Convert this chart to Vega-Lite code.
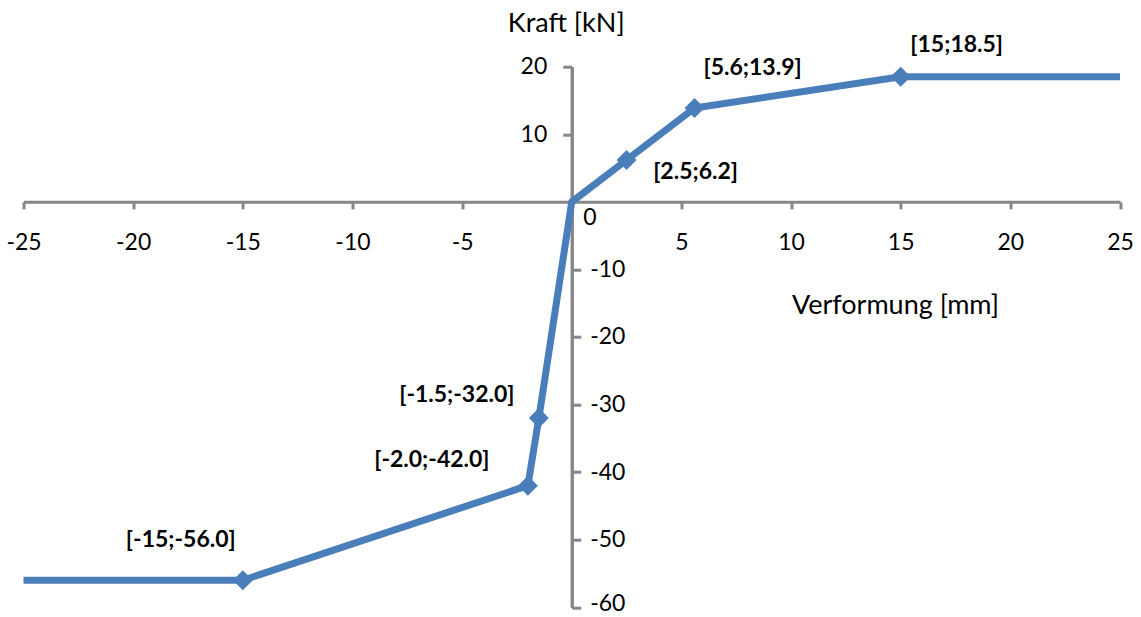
{
  "$schema": "https://vega.github.io/schema/vega-lite/v6.json",
  "autosize": {"type": "none"},
  "width": 1096.5,
  "height": 540.6,
  "padding": {"left": 23.5, "top": 66.7, "right": 21, "bottom": 25},
  "background": "white",
  "config": {
    "view": {"stroke": null},
    "font": "Lato",
    "axis": {"grid": false, "domainColor": "#868686", "tickColor": "#868686", "domainWidth": 3, "tickWidth": 3, "labelColor": "#000000", "labelFont": "Lato", "labelFontSize": 23, "titleFont": "Lato", "titleFontWeight": "normal", "titleColor": "#000000", "titleFontSize": 27, "labelExpr": "'' + datum.value"}
  },
  "data": {
    "values": [
      {"x": -25, "y": -56, "label": null},
      {"x": -15, "y": -56, "label": "[-15;-56.0]"},
      {"x": -2, "y": -42, "label": "[-2.0;-42.0]"},
      {"x": -1.5, "y": -32, "label": "[-1.5;-32.0]"},
      {"x": 0, "y": 0, "label": null},
      {"x": 2.5, "y": 6.2, "label": "[2.5;6.2]"},
      {"x": 5.6, "y": 13.9, "label": "[5.6;13.9]"},
      {"x": 15, "y": 18.5, "label": "[15;18.5]"},
      {"x": 25, "y": 18.5, "label": null}
    ]
  },
  "encoding": {
    "x": {
      "field": "x", "type": "quantitative",
      "scale": {"domain": [-25, 25], "nice": false, "zero": false},
      "axis": {
        "orient": "bottom", "offset": -405.45,
        "values": [-25, -20, -15, -10, -5, 5, 10, 15, 20, 25],
        "labelExpr": "'' + datum.value",
        "tickSize": 7, "labelPadding": 34, "labelBaseline": "middle", "labelFlush": false,
        "title": "Verformung [mm]", "titleX": 871.5, "titleY": 112, "titleAlign": "center", "titleBaseline": "alphabetic", "titleAngle": 0
      }
    }
  },
  "resolve": {"axis": {"y": "independent"}},
  "layer": [
    {
      "mark": {"type": "line", "color": "#4a7ebb", "strokeWidth": 7, "strokeJoin": "round"},
      "encoding": {
        "y": {
          "field": "y", "type": "quantitative",
          "scale": {"domain": [-60, 20], "nice": false, "zero": false},
          "axis": {
            "orient": "left", "offset": -548.25, "values": [10, 20],
            "labelExpr": "'' + datum.value",
            "tickSize": 9, "labelPadding": 16, "labelFlush": false,
            "title": "Kraft [kN]", "titleAngle": 0, "titleX": -6, "titleY": -35, "titleAlign": "center", "titleBaseline": "alphabetic"
          }
        }
      }
    },
    {
      "transform": [{"filter": "datum.label != null"}],
      "mark": {"type": "point", "shape": "diamond", "filled": true, "color": "#4a7ebb", "opacity": 1, "size": 400},
      "encoding": {
        "y": {
          "field": "y", "type": "quantitative",
          "scale": {"domain": [-60, 20], "nice": false, "zero": false},
          "axis": {
            "orient": "right", "offset": -548.25, "values": [0, -10, -20, -30, -40, -50, -60],
            "labelExpr": "'' + datum.value",
            "tickSize": {"condition": {"test": "datum.value === 0", "value": 0}, "value": 9},
            "labelPadding": {"condition": {"test": "datum.value === 0", "value": 11}, "value": 9},
            "labelOffset": {"condition": [{"test": "datum.value === 0", "value": 16}, {"test": "datum.value === -60", "value": -4}], "value": 0},
            "labelFlush": false, "title": null
          }
        }
      }
    },
    {
      "transform": [{"filter": "datum.label === '[15;18.5]'"}],
      "mark": {"type": "text", "fontWeight": "bold", "fontSize": 23, "color": "#000000", "align": "center", "baseline": "middle", "dx": 56, "dy": -32},
      "encoding": {"y": {"field": "y", "type": "quantitative", "scale": {"domain": [-60, 20], "nice": false, "zero": false}, "axis": null}, "text": {"field": "label"}}
    },
    {
      "transform": [{"filter": "datum.label === '[5.6;13.9]'"}],
      "mark": {"type": "text", "fontWeight": "bold", "fontSize": 23, "color": "#000000", "align": "center", "baseline": "middle", "dx": 58, "dy": -40},
      "encoding": {"y": {"field": "y", "type": "quantitative", "scale": {"domain": [-60, 20], "nice": false, "zero": false}, "axis": null}, "text": {"field": "label"}}
    },
    {
      "transform": [{"filter": "datum.label === '[2.5;6.2]'"}],
      "mark": {"type": "text", "fontWeight": "bold", "fontSize": 23, "color": "#000000", "align": "center", "baseline": "middle", "dx": 69, "dy": 12},
      "encoding": {"y": {"field": "y", "type": "quantitative", "scale": {"domain": [-60, 20], "nice": false, "zero": false}, "axis": null}, "text": {"field": "label"}}
    },
    {
      "transform": [{"filter": "datum.label === '[-1.5;-32.0]'"}],
      "mark": {"type": "text", "fontWeight": "bold", "fontSize": 23, "color": "#000000", "align": "center", "baseline": "middle", "dx": -82, "dy": -23},
      "encoding": {"y": {"field": "y", "type": "quantitative", "scale": {"domain": [-60, 20], "nice": false, "zero": false}, "axis": null}, "text": {"field": "label"}}
    },
    {
      "transform": [{"filter": "datum.label === '[-2.0;-42.0]'"}],
      "mark": {"type": "text", "fontWeight": "bold", "fontSize": 23, "color": "#000000", "align": "center", "baseline": "middle", "dx": -96, "dy": -26},
      "encoding": {"y": {"field": "y", "type": "quantitative", "scale": {"domain": [-60, 20], "nice": false, "zero": false}, "axis": null}, "text": {"field": "label"}}
    },
    {
      "transform": [{"filter": "datum.label === '[-15;-56.0]'"}],
      "mark": {"type": "text", "fontWeight": "bold", "fontSize": 23, "color": "#000000", "align": "center", "baseline": "middle", "dx": -62, "dy": -40},
      "encoding": {"y": {"field": "y", "type": "quantitative", "scale": {"domain": [-60, 20], "nice": false, "zero": false}, "axis": null}, "text": {"field": "label"}}
    }
  ]
}
